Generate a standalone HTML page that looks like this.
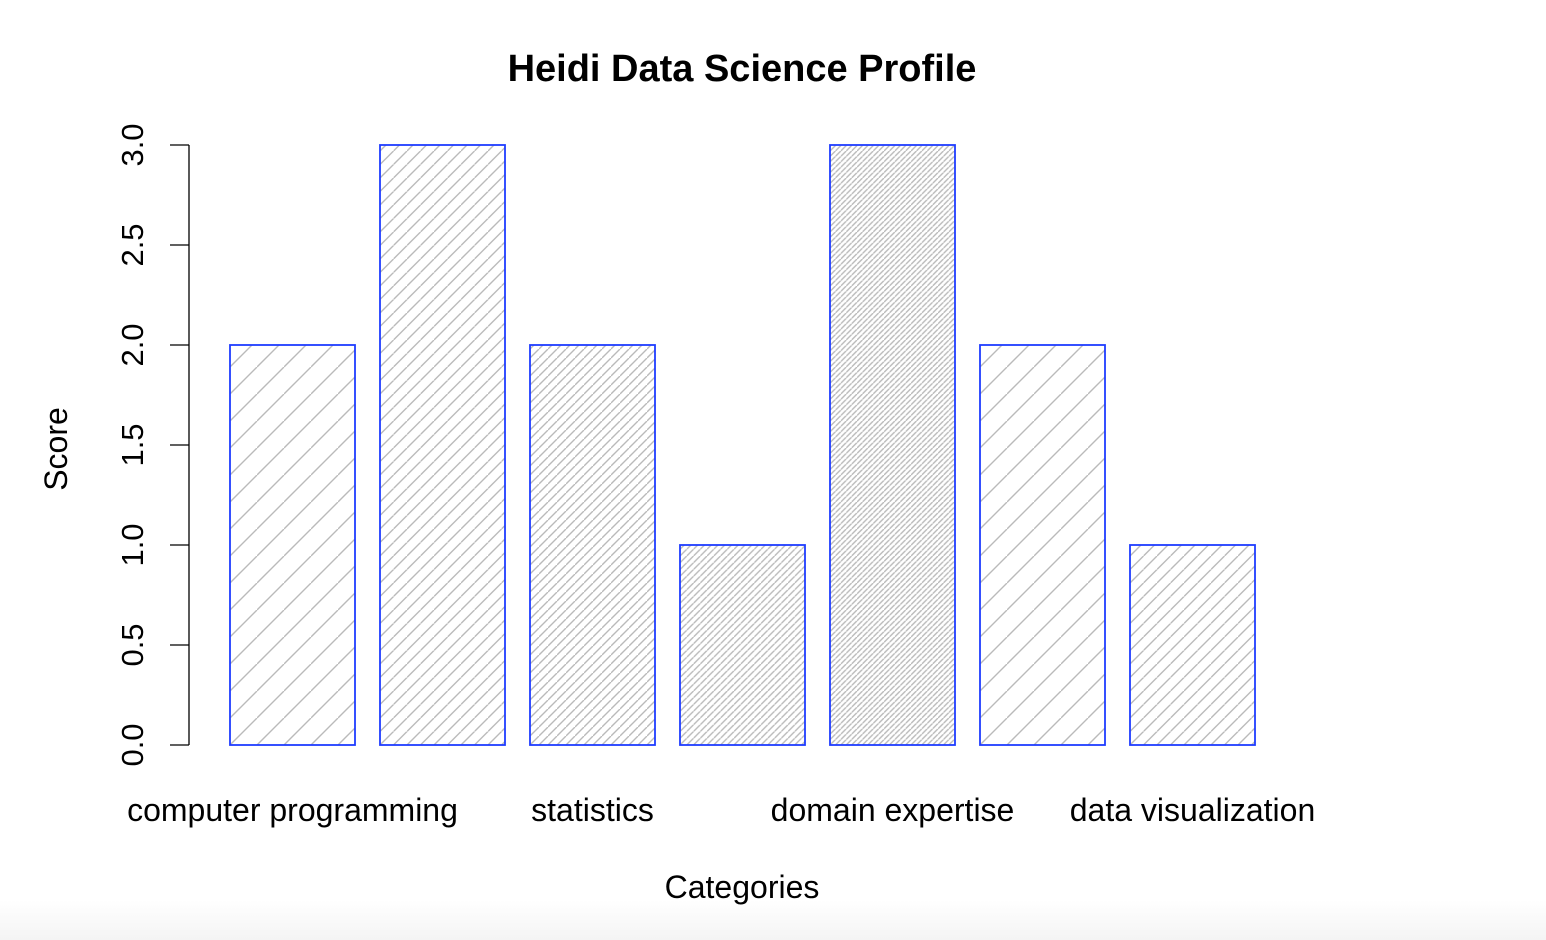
<!DOCTYPE html>
<html><head><meta charset="utf-8"><style>
html,body{margin:0;padding:0;background:#fff;}
svg{display:block;font-family:"Liberation Sans",Arial,sans-serif;}
</style></head><body>
<svg id="chart" width="1546" height="940">
<defs>
<linearGradient id="bottomfade" x1="0" y1="0" x2="0" y2="1"><stop offset="0" stop-color="#fff"/><stop offset="1" stop-color="#f4f4f4"/></linearGradient>
</defs>
<rect x="0" y="900" width="1546" height="40" fill="url(#bottomfade)"/>
<text x="742" y="81" text-anchor="middle" font-size="38" font-weight="bold">Heidi Data Science Profile</text>
<g id="yaxis"></g>
<g id="bars"></g>
<g id="xlabels"></g>
<text x="742" y="898" text-anchor="middle" font-size="32">Categories</text>
<text transform="translate(67,449) rotate(-90)" text-anchor="middle" font-size="32">Score</text>
</svg>
<script>
const categories = ["computer programming","math","statistics","machine learning","domain expertise","communication","data visualization"];
const scores = [2,3,2,1,3,2,1];
const densities = [10,20,30,40,50,10,20];
const yTicks = [0,0.5,1,1.5,2,2.5,3];
const yTickLabels = ["0.0","0.5","1.0","1.5","2.0","2.5","3.0"];

const NS="http://www.w3.org/2000/svg";
const svg=document.getElementById('chart');
const defs=svg.querySelector('defs');
const y0=745, yScale=200;
function yPos(v){return y0-v*yScale;}
function xLeft(i){return 230+i*150;}
const barW=125;
function mk(tag,attrs,parent){const e=document.createElementNS(NS,tag);for(const k in attrs)e.setAttribute(k,attrs[k]);parent.appendChild(e);return e;}

const ya=document.getElementById('yaxis');
mk('line',{x1:189,x2:189,y1:yPos(yTicks[0]),y2:yPos(yTicks[yTicks.length-1]),stroke:'#000','stroke-width':1.3},ya);
yTicks.forEach((t,i)=>{
  const tk=mk('line',{x1:170,x2:189,y1:yPos(t),y2:yPos(t),stroke:'#000','stroke-width':1.3},ya);
  
  
  const lb=mk('text',{transform:`translate(143,${yPos(t)}) rotate(-90)`,'text-anchor':'middle','font-size':31},ya);
  lb.textContent=yTickLabels[i];
  
  
});

const bg=document.getElementById('bars');
scores.forEach((s,i)=>{
  const p=270/densities[i];
  const pat=mk('pattern',{id:'h'+i,patternUnits:'userSpaceOnUse',width:p,height:p,x:xLeft(i),y:y0},defs);
  mk('path',{d:`M0,${p} L${p},0 M${-p},${p} L0,0 M${p},${2*p} L${2*p},${p}`,stroke:'#bababa','stroke-width':1.4},pat);
  const r=mk('rect',{x:xLeft(i),y:yPos(s),width:barW,height:s*yScale,fill:`url(#h${i})`,stroke:'#1f3cff','stroke-width':1.8},bg);
  
  
});

const xl=document.getElementById('xlabels');
categories.forEach((c,i)=>{
  if(i%2!==0)return;
  const t=mk('text',{x:xLeft(i)+barW/2,y:821,'text-anchor':'middle','font-size':32},xl);
  t.textContent=c;
  
  
});
</script>
</body></html>
